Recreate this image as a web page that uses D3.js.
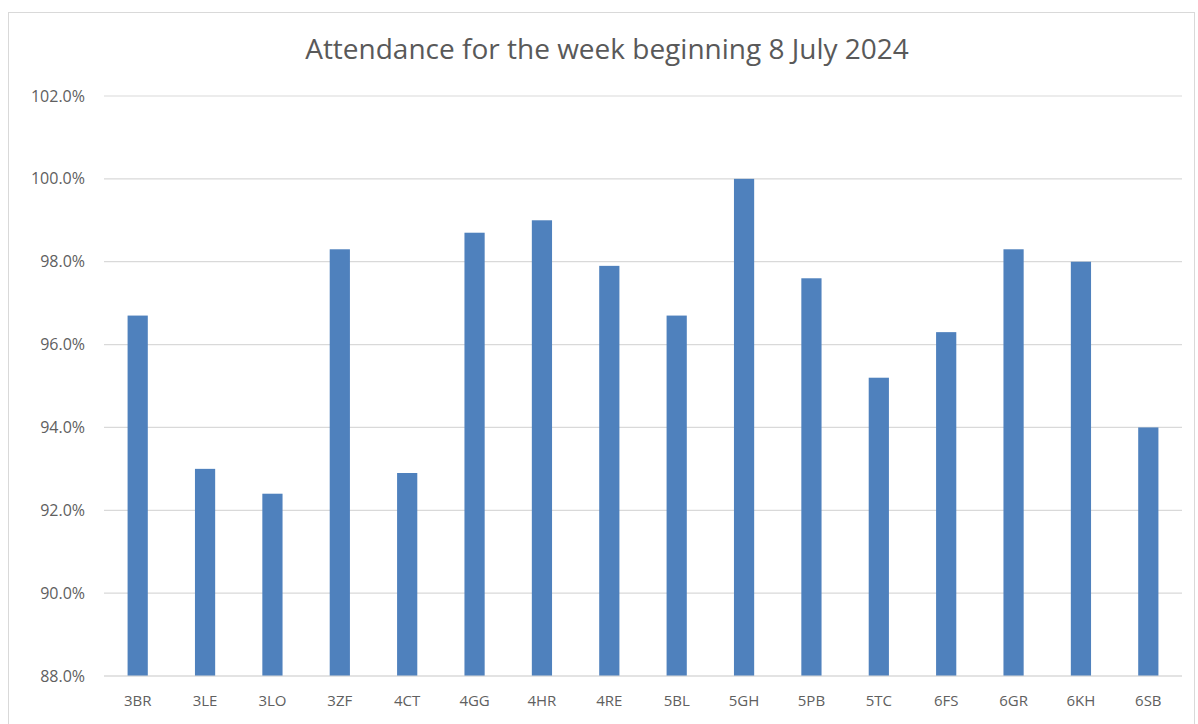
<!DOCTYPE html>
<html>
<head>
<meta charset="utf-8">
<script src="https://cdn.jsdelivr.net/npm/d3@7"></script>
<style>
  body { margin: 0; background: #fff; }
  svg { display: block; }
  .tick text { font-family: "Open Sans", sans-serif; fill: #606060; }
</style>
</head>
<body>
<svg width="1198" height="724"></svg>
<script>
const classes = ["3BR","3LE","3LO","3ZF","4CT","4GG","4HR","4RE","5BL","5GH","5PB","5TC","6FS","6GR","6KH","6SB"]
const attendance = [96.7, 93.0, 92.4, 98.3, 92.9, 98.7, 99.0, 97.9, 96.7, 100.0, 97.6, 95.2, 96.3, 98.3, 98.0, 94.0]
const yTicks = [88, 90, 92, 94, 96, 98, 100, 102]

const svg = d3.select('svg')

// chart frame
svg.append('rect')
    .attr('x', 8.5).attr('y', 12.5)
    .attr('width', 1186).attr('height', 730)
    .attr('fill', '#fff')
    .attr('stroke', '#d9d9d9')

const left = 104, right = 1182
const x = d3.scaleBand()
    .domain(classes)
    .range([left, right])
    .paddingInner(0.7)
    .paddingOuter(0.35)

const y = d3.scaleLinear()
    .domain([88, 102])
    .range([676, 96])

// gridlines
svg.append('g')
    .selectAll('line')
    .data(yTicks).enter()
    .append('line')
    .attr('x1', left).attr('x2', right)
    .attr('y1', d => y(d)).attr('y2', d => y(d))
    .attr('stroke', '#d9d9d9')
    .attr('stroke-width', 1.2)

// y axis labels
const yAxis = svg.append('g')
    .attr('transform', 'translate(89,0)')
    .call(d3.axisLeft(y).tickValues(yTicks).tickSize(0).tickFormat(d => d.toFixed(1) + '%'))
yAxis.select('.domain').remove()
yAxis.selectAll('text').attr('font-size', 16).attr('x', -4)

// bars
svg.append('g')
    .selectAll('rect')
    .data(classes).enter()
    .append('rect')
    .attr('x', d => x(d))
    .attr('width', x.bandwidth())
    .attr('y', (d, i) => y(attendance[i]))
    .attr('height', (d, i) => y(88) - y(attendance[i]))
    .attr('fill', '#4f81bd')

// x axis
const xAxis = svg.append('g')
    .attr('transform', `translate(0,${y(88)})`)
    .call(d3.axisBottom(x).tickSize(0).tickPadding(19))
xAxis.select('.domain').remove()
xAxis.selectAll('text').attr('font-size', 15)

svg.append('line')
    .attr('x1', left).attr('x2', right)
    .attr('y1', y(88)).attr('y2', y(88))
    .attr('stroke', '#d9d9d9')
    .attr('stroke-width', 1.2)

// title
svg.append('text')
    .attr('x', 607).attr('y', 59)
    .attr('text-anchor', 'middle')
    .attr('font-family', '"Open Sans", sans-serif')
    .attr('font-size', 28)
    .attr('fill', '#595959')
    .text('Attendance for the week beginning 8 July 2024')
</script>
</body>
</html>
